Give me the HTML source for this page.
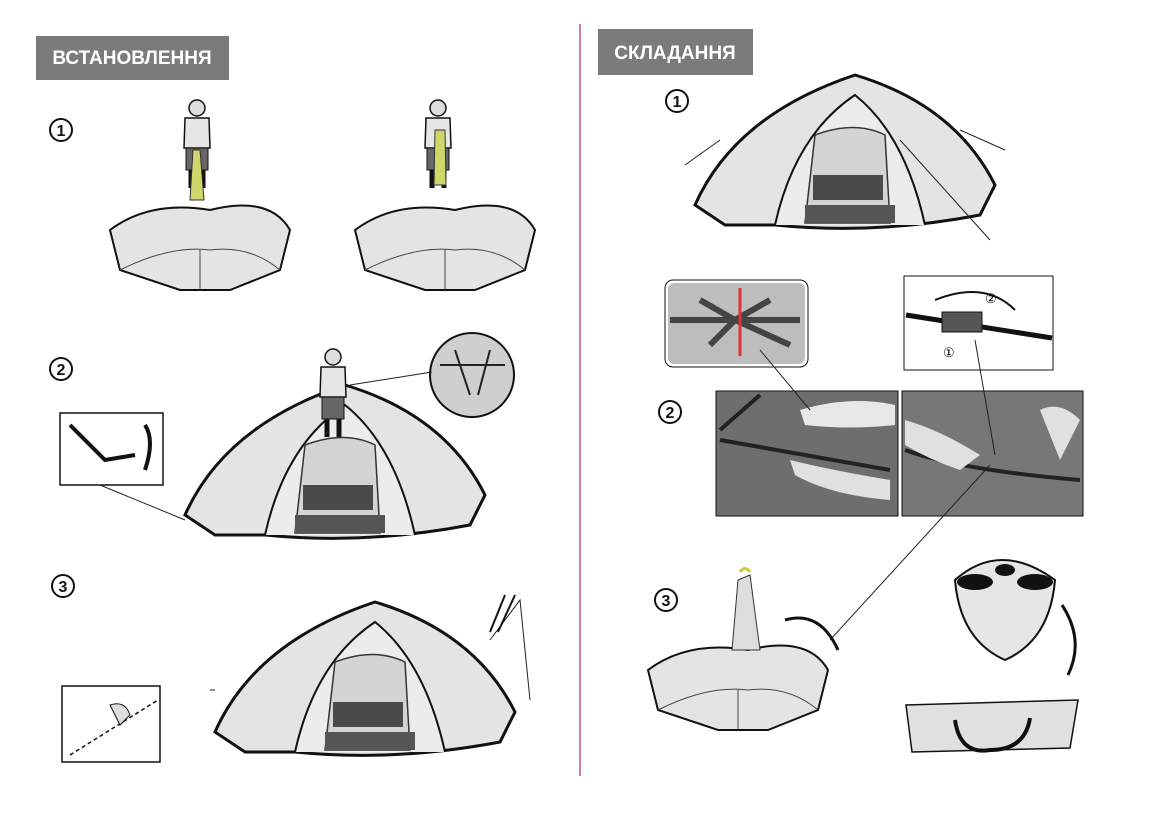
<!DOCTYPE html>
<html><head><meta charset="utf-8"><style>
html,body{margin:0;padding:0;background:#fff;}
svg{display:block;}
text{font-family:"Liberation Sans",sans-serif;}
</style></head><body>
<svg width="1157" height="821" viewBox="0 0 1157 821" xmlns="http://www.w3.org/2000/svg">
<rect width="1157" height="821" fill="#fff"/>
<line x1="580" y1="24" x2="580" y2="776" stroke="#c0508a" stroke-width="1.5"/>
<rect x="36" y="36" width="193" height="44" fill="#7b7b7b"/>
<text x="132" y="64" fill="#fff" font-size="19" font-weight="bold" text-anchor="middle">ВСТАНОВЛЕННЯ</text>
<rect x="598" y="29" width="155" height="46" fill="#7b7b7b"/>
<text x="675" y="59" fill="#fff" font-size="19" font-weight="bold" text-anchor="middle">СКЛАДАННЯ</text>
<g font-weight="bold" fill="#111" text-anchor="middle">
<circle cx="61" cy="130" r="11" fill="none" stroke="#111" stroke-width="2"/><text x="61" y="136" font-size="16">1</text>
<circle cx="61" cy="369" r="11" fill="none" stroke="#111" stroke-width="2"/><text x="61" y="375" font-size="16">2</text>
<circle cx="63" cy="586" r="11" fill="none" stroke="#111" stroke-width="2"/><text x="63" y="592" font-size="16">3</text>
<circle cx="677" cy="101" r="11" fill="none" stroke="#111" stroke-width="2"/><text x="677" y="107" font-size="16">1</text>
<circle cx="670" cy="412" r="11" fill="none" stroke="#111" stroke-width="2"/><text x="670" y="418" font-size="16">2</text>
<circle cx="666" cy="600" r="11" fill="none" stroke="#111" stroke-width="2"/><text x="666" y="606" font-size="16">3</text>
</g>
<defs>
<g id="tent">
<path d="M0,130 Q40,40 160,0 Q260,30 300,110 L285,140 Q180,160 80,150 L30,150 Z" fill="#e4e4e4" stroke="#111" stroke-width="3"/>
<path d="M80,150 Q100,60 160,20 Q210,60 230,150" fill="#ececec" stroke="#111" stroke-width="2"/>
<path d="M110,148 L120,60 Q160,45 190,60 L195,148 Z" fill="#d4d4d4" stroke="#333" stroke-width="1.5"/>
<rect x="118" y="100" width="70" height="25" fill="#4a4a4a"/>
<rect x="110" y="130" width="90" height="18" fill="#555"/>
</g>
<g id="flat">
<path d="M0,40 Q40,10 100,20 Q160,5 180,40 L170,80 L120,100 L70,100 L10,80 Z" fill="#e4e4e4" stroke="#111" stroke-width="2"/>
<path d="M10,80 Q60,55 100,60 Q140,55 170,80" fill="none" stroke="#444" stroke-width="1"/>
<line x1="90" y1="60" x2="90" y2="100" stroke="#444"/>
</g>
<g id="man">
<circle cx="0" cy="0" r="8" fill="#ddd" stroke="#111" stroke-width="1.5"/>
<path d="M-12,10 L12,10 L13,40 L-13,40 Z" fill="#e6e6e6" stroke="#111" stroke-width="1.5"/>
<rect x="-11" y="40" width="22" height="22" fill="#666" stroke="#111"/>
<line x1="-6" y1="62" x2="-6" y2="80" stroke="#111" stroke-width="5"/>
<line x1="6" y1="62" x2="6" y2="80" stroke="#111" stroke-width="5"/>
</g>
</defs>
<use href="#flat" x="110" y="190"/>
<use href="#man" x="197" y="108"/>
<path d="M193,150 L200,150 L204,200 L190,200 Z" fill="#cfd66a" stroke="#333"/>
<use href="#flat" x="355" y="190"/>
<use href="#man" x="438" y="108"/>
<path d="M435,130 L445,130 L446,185 L434,185 Z" fill="#cfd66a" stroke="#333"/>
<use href="#tent" x="185" y="385"/>
<use href="#man" x="333" y="357"/>
<circle cx="472" cy="375" r="42" fill="#cfcfcf" stroke="#111" stroke-width="2"/>
<path d="M440,365 L505,365 M455,350 L470,395 M490,350 L478,395" stroke="#222" stroke-width="2"/>
<line x1="350" y1="385" x2="432" y2="372" stroke="#222"/>
<rect x="60" y="413" width="103" height="72" fill="#fff" stroke="#111" stroke-width="1.5"/>
<path d="M70,425 L105,460 L135,455 M145,425 Q155,440 145,470" stroke="#111" stroke-width="4" fill="none"/>
<line x1="100" y1="485" x2="185" y2="520" stroke="#222"/>
<use href="#tent" x="215" y="602"/>
<path d="M210,690 L215,690 M490,640 L520,600 L530,700" stroke="#222" fill="none"/>
<path d="M490,632 L505,595 M498,632 L515,595" stroke="#111" stroke-width="2"/>
<rect x="62" y="686" width="98" height="76" fill="#fff" stroke="#111" stroke-width="1.5"/>
<line x1="70" y1="755" x2="158" y2="700" stroke="#111" stroke-dasharray="4 3" stroke-width="1.5"/>
<path d="M110,705 Q125,700 130,715 L120,725 Z" fill="#ddd" stroke="#111"/>
<use href="#tent" x="695" y="75"/>
<line x1="685" y1="165" x2="720" y2="140" stroke="#222"/>
<line x1="1005" y1="150" x2="960" y2="130" stroke="#222"/>
<line x1="900" y1="140" x2="990" y2="240" stroke="#222"/>
<rect x="665" y="280" width="143" height="87" rx="8" fill="#fff" stroke="#111"/>
<rect x="668" y="283" width="137" height="81" rx="6" fill="#bdbdbd"/>
<path d="M670,320 L800,320 M700,300 L735,320 L770,300 M710,345 L735,320 L790,345" stroke="#444" stroke-width="6" fill="none"/>
<path d="M740,288 L740,356" stroke="#d33" stroke-width="3"/>
<rect x="904" y="276" width="149" height="94" fill="#fff" stroke="#111"/>
<line x1="906" y1="315" x2="1052" y2="338" stroke="#111" stroke-width="5"/>
<rect x="942" y="312" width="40" height="20" fill="#555" stroke="#111"/>
<text x="985" y="303" font-size="13">②</text>
<text x="943" y="357" font-size="13">①</text>
<path d="M1015,310 Q985,280 935,300" stroke="#111" stroke-width="2" fill="none"/>
<rect x="716" y="391" width="182" height="125" fill="#6e6e6e" stroke="#111"/>
<path d="M720,440 L890,470 M760,395 L720,430" stroke="#222" stroke-width="4"/>
<path d="M800,410 Q850,395 895,405 L895,425 Q850,430 805,425 Z" fill="#e8e8e8"/>
<path d="M790,460 Q830,470 890,480 L890,500 Q830,495 795,475 Z" fill="#e0e0e0"/>
<rect x="902" y="391" width="181" height="125" fill="#777" stroke="#111"/>
<path d="M905,450 Q960,470 1080,480" stroke="#222" stroke-width="4" fill="none"/>
<path d="M905,420 Q940,430 980,455 L960,470 Q930,460 905,445 Z" fill="#e0e0e0"/>
<path d="M1040,410 Q1060,400 1080,420 L1060,460 Z" fill="#e0e0e0"/>
<line x1="760" y1="350" x2="810" y2="410" stroke="#222"/>
<line x1="975" y1="340" x2="995" y2="455" stroke="#222"/>
<line x1="990" y1="465" x2="830" y2="640" stroke="#222"/>
<use href="#flat" x="648" y="630"/>
<path d="M738,580 L750,575 L760,650 L732,650 Z" fill="#ddd" stroke="#333"/>
<path d="M740,572 Q745,565 750,572" stroke="#cc3" stroke-width="3" fill="none"/>
<path d="M785,620 Q820,610 838,650" stroke="#111" stroke-width="3" fill="none"/>
<path d="M955,580 Q1000,540 1055,580 Q1050,640 1005,660 Q960,640 955,580 Z" fill="#e6e6e6" stroke="#111" stroke-width="2"/>
<ellipse cx="975" cy="582" rx="18" ry="8" fill="#111"/>
<ellipse cx="1035" cy="582" rx="18" ry="8" fill="#111"/>
<ellipse cx="1005" cy="570" rx="10" ry="6" fill="#111"/>
<path d="M1062,605 Q1085,640 1068,675" stroke="#111" stroke-width="3" fill="none"/>
<path d="M906,705 L1078,700 L1070,748 L912,752 Z" fill="#e0e0e0" stroke="#111" stroke-width="1.5"/>
<path d="M955,720 Q960,755 990,750 Q1025,750 1030,718" stroke="#111" stroke-width="4" fill="none"/>
</svg>
</body></html>
